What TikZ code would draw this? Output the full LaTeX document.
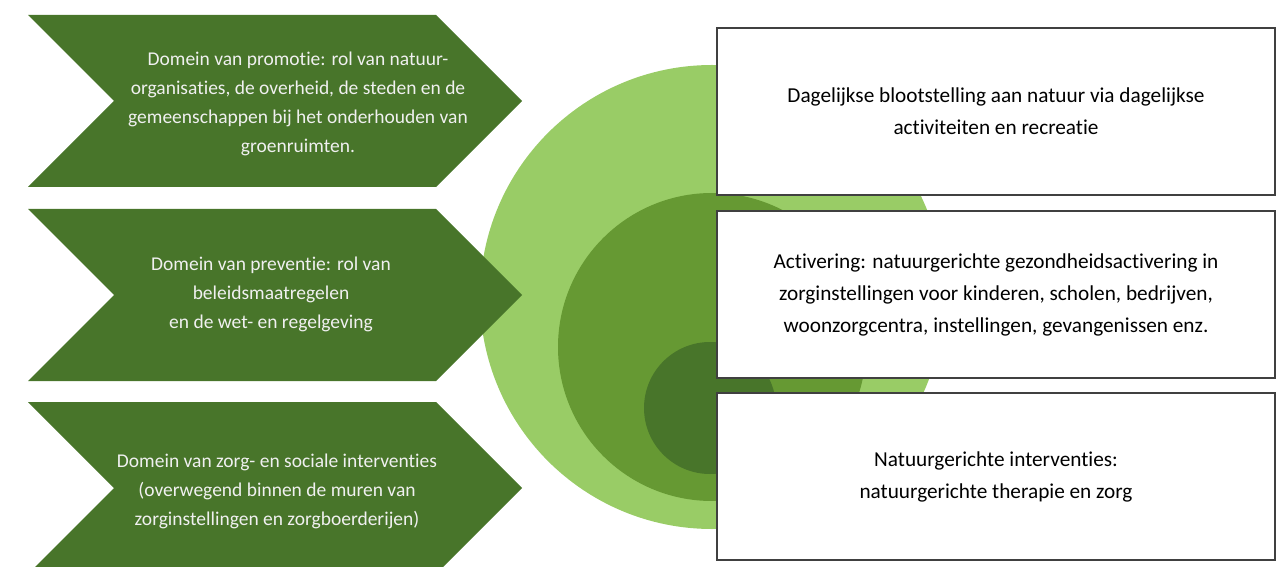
\documentclass[tikz,border=0pt]{standalone}
\usepackage{fontspec}
\setmainfont{Carlito}[Ligatures={NoCommon,NoContextual}, Contextuals=NoAlternate]
\definecolor{groendonker}{HTML}{48752A}
\definecolor{groenmidden}{HTML}{669933}
\definecolor{groenlicht}{HTML}{99CC66}
\tikzset{
    domein/.style={fill=groendonker},
    domtxt/.style={text=white!94!black, align=center, inner sep=0pt, font=\fontsize{11.1}{16.5}\selectfont},
    vak/.style={draw=black!75, line width=0.7pt, fill=white, minimum width=11.16cm, minimum height=3.34cm, inner sep=0pt, align=center, font=\fontsize{12.1}{18.2}\selectfont}
}

\begin{document}
\begin{tikzpicture}[x=0.02cm, y=-0.02cm]
        \useasboundingbox (0,0) rectangle (1284,567);
        % cirkels
        \fill[groenlicht] (712,297) circle (232);
        \fill[groenmidden] (712,347) circle (154);
        \fill[groendonker] (710,408) circle (66);
        % pijlen
        \foreach \y in {15,209,402}
            \fill[domein] (28,\y) -- (436,\y) -- (522,\y+86) -- (436,\y+172) -- (28,\y+172) -- (114,\y+86) -- cycle;

        \node[domtxt] (d1) at (298,104) {Domein van promotie: rol van natuur-\\organisaties, de overheid, de steden en de\\gemeenschappen bij het onderhouden van\\groenruimten.};
        \node[domtxt] (d2) at (271,294) {Domein van preventie: rol van\\beleidsmaatregelen\\en de wet- en regelgeving};
        \node[domtxt] (d3) at (277,491) {Domein van zorg- en sociale interventies\\(overwegend binnen de muren van\\zorginstellingen en zorgboerderijen)};

        % vakken
        \node[vak] (v1) at (996,111.5) {Dagelijkse blootstelling aan natuur via dagelijkse\\activiteiten en recreatie};
        \node[vak] (v2) at (996,294.5) {Activering: natuurgerichte gezondheidsactivering in\\zorginstellingen voor kinderen, scholen, bedrijven,\\woonzorgcentra, instellingen, gevangenissen enz.};
        \node[vak] (v3) at (996,476.5) {Natuurgerichte interventies:\\natuurgerichte therapie en zorg};
    \end{tikzpicture}
\end{document}
